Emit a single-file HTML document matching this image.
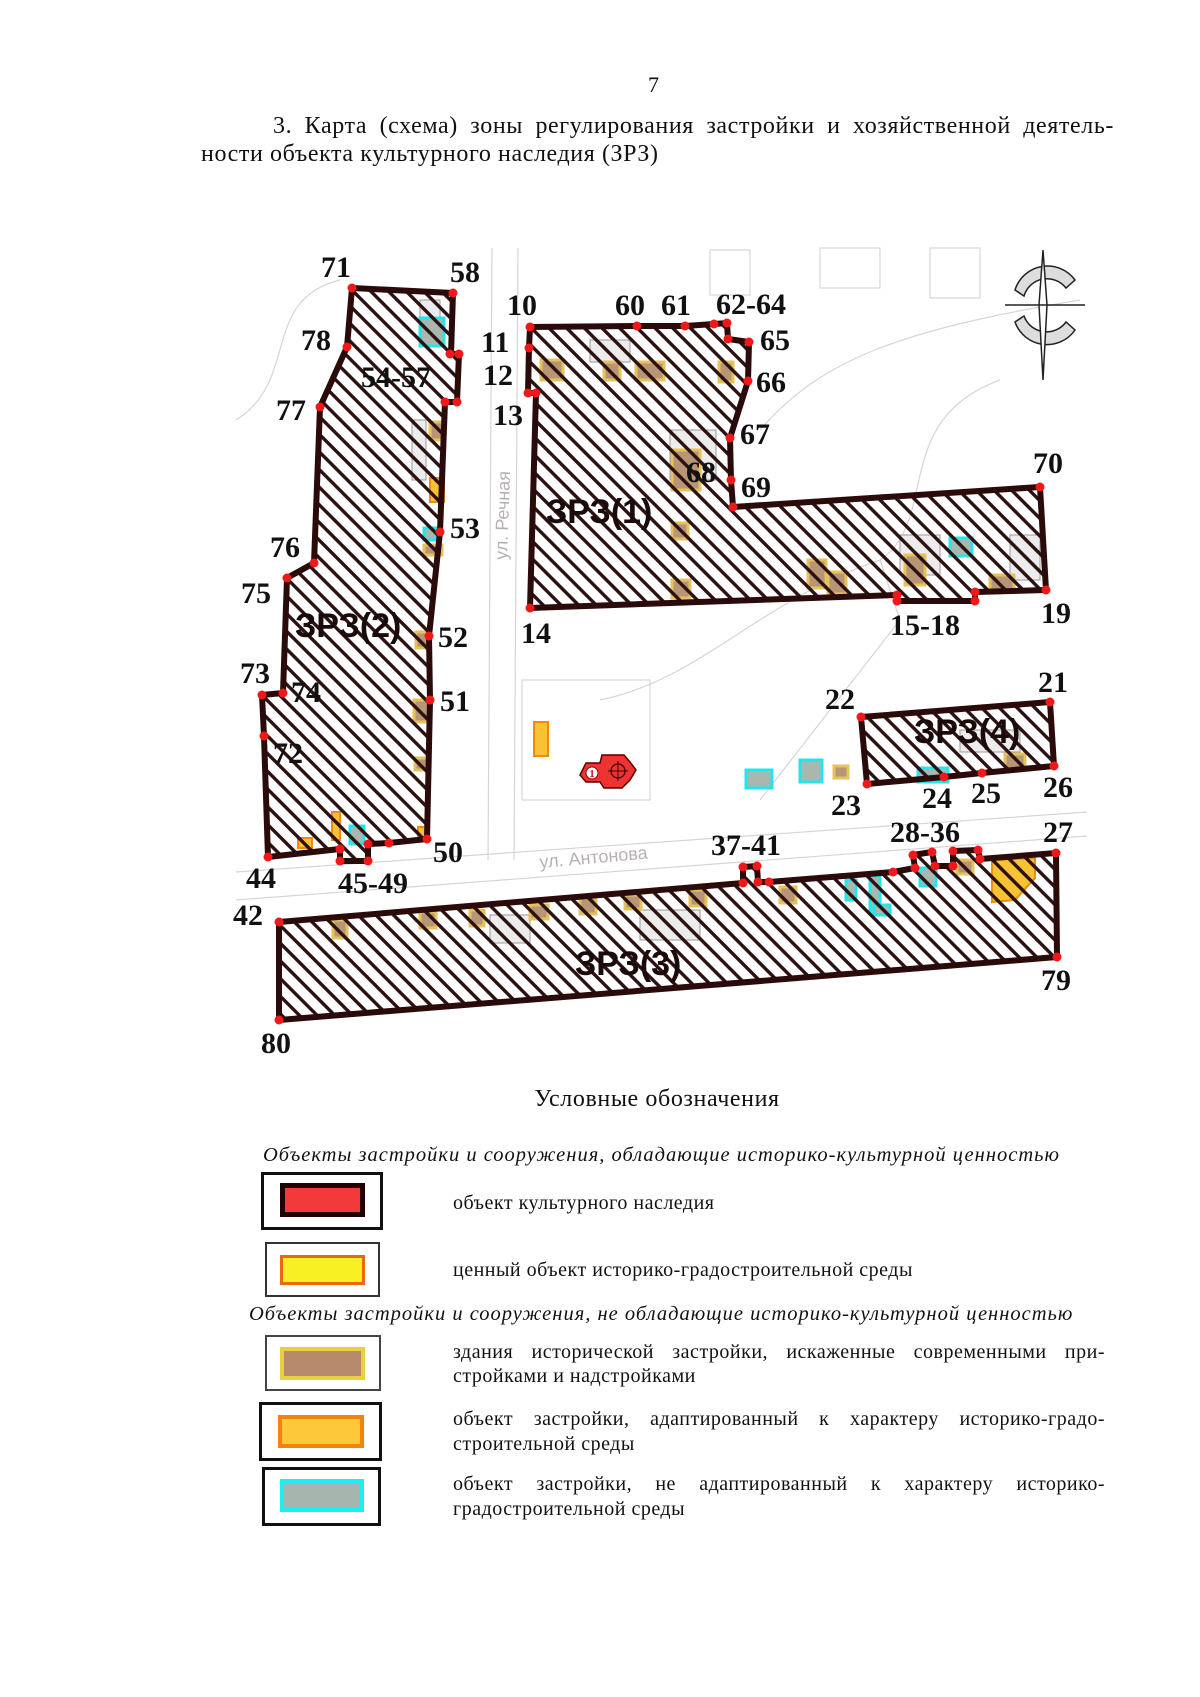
<!DOCTYPE html>
<html><head><meta charset="utf-8"><style>
html,body{margin:0;padding:0;background:#fff}
body{width:1200px;height:1697px;position:relative;overflow:hidden;font-family:"Liberation Serif","Noto Serif CJK SC",serif;color:#111}
.t{position:absolute;white-space:nowrap}
.lb{position:absolute;border:3px solid #111;background:#fff;box-sizing:border-box}
.in{position:absolute;box-sizing:border-box}
.lg{font-size:20px;letter-spacing:0.5px}
</style></head><body>
<div class="t" style="left:648px;top:72px;font-size:22px">7</div>
<div class="t" style="left:273px;top:113px;font-size:24px;letter-spacing:0.6px;width:841px;text-align:justify;text-align-last:justify">3. Карта (схема) зоны регулирования застройки и хозяйственной деятель-</div>
<div class="t" style="left:201px;top:141px;font-size:24px;letter-spacing:0.6px">ности объекта культурного наследия (ЗРЗ)</div>

<svg style="position:absolute;left:0;top:0" width="1200" height="1100" viewBox="0 0 1200 1100">
<defs>
<pattern id="h" patternUnits="userSpaceOnUse" width="12.5" height="12.5" patternTransform="rotate(-45)">
<line x1="6.25" y1="0" x2="6.25" y2="12.5" stroke="#2a1010" stroke-width="3.4"/>
</pattern>
</defs>
<g fill="none" stroke="#d9d4d4" stroke-width="1.2">
<path d="M492 248 L488 860 M518 248 L514 860"/>
<path d="M236 872 L1087 812 M236 900 L1087 836"/>
<path d="M236 420 C300 380 260 300 340 280 M600 700 C700 680 760 600 880 560 C940 520 890 420 1000 380 M760 430 C820 360 900 330 1080 300"/>
<path d="M880 560 L900 620 L760 800"/>
<rect x="522" y="680" width="128" height="120"/>
<rect x="820" y="248" width="60" height="40"/><rect x="930" y="248" width="50" height="50"/><rect x="710" y="250" width="40" height="45"/>
</g>
<g fill="#ececec" stroke="#9a9a9a" stroke-width="1">
<rect x="420" y="300" width="20" height="40"/><rect x="412" y="420" width="14" height="60"/><rect x="590" y="340" width="40" height="22"/><rect x="670" y="430" width="46" height="50"/><rect x="900" y="535" width="40" height="40"/><rect x="1010" y="535" width="30" height="45"/><rect x="960" y="730" width="60" height="22"/><rect x="640" y="910" width="60" height="30"/><rect x="490" y="915" width="40" height="28"/>
</g>
<g fill="#b89575" stroke="#e6c25a" stroke-width="3">
<rect x="541" y="360" width="22" height="20"/><rect x="604" y="362" width="16" height="18"/><rect x="636" y="362" width="28" height="18"/><rect x="719" y="362" width="14" height="20"/>
<rect x="672" y="450" width="28" height="40"/><rect x="672" y="523" width="16" height="16"/><rect x="672" y="580" width="18" height="18"/>
<rect x="808" y="560" width="18" height="28"/><rect x="828" y="572" width="18" height="22"/><rect x="905" y="555" width="20" height="30"/><rect x="990" y="575" width="24" height="16"/>
<rect x="430" y="422" width="14" height="18"/><rect x="424" y="545" width="18" height="10"/><rect x="416" y="632" width="14" height="16"/><rect x="414" y="700" width="16" height="22"/><rect x="415" y="758" width="14" height="12"/>
<rect x="1005" y="754" width="20" height="16"/><rect x="834" y="766" width="14" height="12"/>
<rect x="333" y="920" width="14" height="18"/><rect x="420" y="912" width="16" height="16"/><rect x="470" y="910" width="14" height="16"/><rect x="530" y="905" width="18" height="14"/><rect x="580" y="898" width="16" height="16"/><rect x="625" y="895" width="16" height="14"/><rect x="690" y="890" width="16" height="16"/><rect x="780" y="887" width="16" height="16"/><rect x="957" y="860" width="16" height="14"/>
</g>
<g fill="#a8b8b0" stroke="#22e6ea" stroke-width="3">
<rect x="420" y="318" width="24" height="28"/><rect x="424" y="528" width="12" height="12"/><rect x="950" y="538" width="22" height="18"/>
<rect x="918" y="768" width="30" height="14"/><rect x="350" y="826" width="14" height="18"/>
<rect x="746" y="770" width="26" height="18"/><rect x="800" y="760" width="22" height="22"/>
<rect x="846" y="880" width="10" height="20"/><rect x="870" y="876" width="10" height="38"/><rect x="874" y="905" width="16" height="10"/><rect x="920" y="868" width="16" height="18"/>
</g>
<g fill="#f7c234" stroke="#f08a10" stroke-width="2">
<path d="M992 860 L1035 858 L1035 878 L1015 900 L992 902 Z"/><rect x="430" y="478" width="14" height="24"/><rect x="332" y="812" width="8" height="28"/><rect x="298" y="838" width="14" height="10"/><rect x="418" y="827" width="10" height="10"/><rect x="534" y="722" width="14" height="34"/>
</g>
<path d="M580 775 L586 763 L600 763 L602 755 L624 755 L630 762 L636 770 L630 780 L622 788 L604 788 L600 782 L586 782 Z" fill="#ee3333" stroke="#5a0000" stroke-width="1.5"/>
<circle cx="592" cy="773" r="6" fill="#fff" stroke="#900" stroke-width="1"/><text x="592" y="777" font-size="10" text-anchor="middle" fill="#c00" font-weight="bold">1</text>
<circle cx="618" cy="771" r="7" fill="none" stroke="#400" stroke-width="1.3"/><path d="M608 771 H628 M618 761 V781" stroke="#400" stroke-width="1"/>
<g stroke="#222" stroke-width="1.5" fill="#ddd">
<path d="M1075 280 A34 34 0 0 0 1015 290 L1024 296 A24 24 0 0 1 1066 288 Z"/>
<path d="M1075 330 A34 34 0 0 1 1015 322 L1024 316 A24 24 0 0 0 1066 322 Z"/>
<path d="M1043 250 L1047 305 L1043 380 L1039 305 Z" fill="#fff"/>
</g>
<path d="M1005 305 H1085" stroke="#222" stroke-width="1.5"/>
<g fill="url(#h)" stroke="#2b0a0a" stroke-width="6" stroke-linejoin="round">
<polygon points="352,288 453,293 451,354 459,354 457,402 445,402 440,532 429,636 430,700 427,839 389,843 368,844 368,861 340,861 340,849 268,857 264,736 262,695 283,693 287,578 314,563 320,407 347,347"/>
<polygon points="530,327 637,326 685,326 714,324 727,323 728,339 749,342 748,381 730,438 731,480 733,507 1040,487 1046,590 975,592 975,601 897,601 897,595 530,608 536,393 528,393 529,348"/>
<polygon points="861,717 1050,702 1054,766 982,773 944,777 867,784"/>
<polygon points="279,922 743,883 743,867 757,866 758,882 769,882 893,872 915,868 913,855 932,852 935,866 953,866 953,851 978,850 980,859 1056,853 1057,957 279,1020"/>
</g>
<g fill="#f01818">
<circle cx="352" cy="288" r="4.5"/><circle cx="453" cy="293" r="4.5"/><circle cx="347" cy="347" r="4.5"/><circle cx="450" cy="354" r="4.5"/><circle cx="459" cy="354" r="4.5"/><circle cx="320" cy="407" r="4.5"/><circle cx="445" cy="402" r="4.5"/><circle cx="457" cy="402" r="4.5"/><circle cx="440" cy="532" r="4.5"/><circle cx="314" cy="563" r="4.5"/><circle cx="287" cy="578" r="4.5"/><circle cx="429" cy="636" r="4.5"/><circle cx="430" cy="700" r="4.5"/><circle cx="262" cy="695" r="4.5"/><circle cx="283" cy="693" r="4.5"/><circle cx="264" cy="736" r="4.5"/><circle cx="268" cy="857" r="4.5"/><circle cx="340" cy="849" r="4.5"/><circle cx="340" cy="861" r="4.5"/><circle cx="368" cy="861" r="4.5"/><circle cx="368" cy="844" r="4.5"/><circle cx="389" cy="843" r="4.5"/><circle cx="427" cy="839" r="4.5"/>
<circle cx="530" cy="327" r="4.5"/><circle cx="529" cy="348" r="4.5"/><circle cx="528" cy="393" r="4.5"/><circle cx="536" cy="393" r="4.5"/><circle cx="530" cy="608" r="4.5"/><circle cx="637" cy="326" r="4.5"/><circle cx="685" cy="326" r="4.5"/><circle cx="714" cy="324" r="4.5"/><circle cx="727" cy="323" r="4.5"/><circle cx="728" cy="339" r="4.5"/><circle cx="749" cy="342" r="4.5"/><circle cx="748" cy="381" r="4.5"/><circle cx="730" cy="438" r="4.5"/><circle cx="731" cy="480" r="4.5"/><circle cx="733" cy="507" r="4.5"/><circle cx="1040" cy="487" r="4.5"/><circle cx="1046" cy="590" r="4.5"/><circle cx="975" cy="592" r="4.5"/><circle cx="975" cy="601" r="4.5"/><circle cx="897" cy="595" r="4.5"/><circle cx="897" cy="601" r="4.5"/>
<circle cx="861" cy="717" r="4.5"/><circle cx="1050" cy="702" r="4.5"/><circle cx="1054" cy="766" r="4.5"/><circle cx="982" cy="773" r="4.5"/><circle cx="944" cy="777" r="4.5"/><circle cx="867" cy="784" r="4.5"/>
<circle cx="279" cy="922" r="4.5"/><circle cx="279" cy="1020" r="4.5"/><circle cx="1057" cy="957" r="4.5"/><circle cx="1056" cy="853" r="4.5"/><circle cx="743" cy="883" r="4.5"/><circle cx="743" cy="867" r="4.5"/><circle cx="757" cy="866" r="4.5"/><circle cx="758" cy="882" r="4.5"/><circle cx="769" cy="882" r="4.5"/><circle cx="893" cy="872" r="4.5"/><circle cx="915" cy="868" r="4.5"/><circle cx="913" cy="855" r="4.5"/><circle cx="932" cy="852" r="4.5"/><circle cx="935" cy="866" r="4.5"/><circle cx="953" cy="866" r="4.5"/><circle cx="953" cy="851" r="4.5"/><circle cx="978" cy="850" r="4.5"/><circle cx="980" cy="859" r="4.5"/>
</g>
<text x="0" y="0" font-family="Liberation Sans, sans-serif" font-size="18" fill="#b8b0b0" transform="translate(507,560) rotate(-88)">ул. Речная</text>
<text x="0" y="0" font-family="Liberation Sans, sans-serif" font-size="18" fill="#b8b0b0" transform="translate(540,868) rotate(-5)">ул. Антонова</text>
<g font-family="Liberation Serif, serif" font-weight="bold" font-size="30" fill="#111">
<text x="321" y="277">71</text><text x="450" y="282">58</text><text x="301" y="350">78</text><text x="276" y="420">77</text><text x="361" y="387">54-57</text>
<text x="507" y="315">10</text><text x="615" y="315">60</text><text x="661" y="315">61</text><text x="716" y="314">62-64</text>
<text x="481" y="352">11</text><text x="483" y="385">12</text><text x="493" y="425">13</text>
<text x="760" y="350">65</text><text x="756" y="392">66</text><text x="740" y="444">67</text><text x="686" y="482">68</text><text x="741" y="497">69</text><text x="1033" y="473">70</text>
<text x="450" y="538">53</text><text x="270" y="557">76</text><text x="241" y="603">75</text><text x="438" y="647">52</text><text x="521" y="643">14</text>
<text x="1041" y="623">19</text><text x="890" y="635">15-18</text>
<text x="240" y="683">73</text><text x="291" y="702">74</text><text x="440" y="711">51</text><text x="273" y="763">72</text>
<text x="246" y="888">44</text><text x="338" y="893">45-49</text><text x="433" y="862">50</text><text x="233" y="925">42</text><text x="261" y="1053">80</text>
<text x="825" y="709">22</text><text x="1038" y="692">21</text><text x="1043" y="797">26</text><text x="922" y="808">24</text><text x="971" y="803">25</text><text x="831" y="815">23</text>
<text x="711" y="855">37-41</text><text x="890" y="842">28-36</text><text x="1043" y="842">27</text><text x="1041" y="990">79</text>
</g>
<g font-family="Liberation Sans, sans-serif" font-weight="bold" font-size="34" fill="#1a0a0a">
<text x="546" y="523">ЗРЗ(1)</text><text x="295" y="637">ЗРЗ(2)</text><text x="575" y="975">ЗРЗ(3)</text><text x="914" y="743">ЗРЗ(4)</text>
</g>
</svg>

<div class="t" style="left:0;width:1314px;text-align:center;top:1086px;font-size:24px;letter-spacing:0.6px">Условные обозначения</div>
<div class="t" style="left:263px;top:1144px;width:789px;font-size:20.5px;letter-spacing:1px;font-style:italic;text-align:justify;text-align-last:justify">Объекты застройки и сооружения, обладающие историко-культурной ценностью</div>
<div class="lb" style="left:261px;top:1172px;width:122px;height:58px"></div>
<div class="in" style="left:280px;top:1183px;width:85px;height:34px;background:#f23a3a;border:5px solid #220000"></div>
<div class="t lg" style="left:453px;top:1192px">объект культурного наследия</div>
<div class="lb" style="left:265px;top:1242px;width:115px;height:55px;border-width:2px;border-color:#333"></div>
<div class="in" style="left:280px;top:1255px;width:85px;height:30px;background:#f8f022;border:3px solid #e86a10"></div>
<div class="t lg" style="left:453px;top:1259px">ценный объект историко-градостроительной среды</div>
<div class="t" style="left:249px;top:1303px;width:817px;font-size:20.5px;letter-spacing:1px;font-style:italic;text-align:justify;text-align-last:justify">Объекты застройки и сооружения, не обладающие историко-культурной ценностью</div>
<div class="lb" style="left:265px;top:1335px;width:116px;height:56px;border-width:2px;border-color:#444"></div>
<div class="in" style="left:280px;top:1347px;width:85px;height:33px;background:#b88a6c;border:4px solid #e8d040"></div>
<div class="t lg" style="left:453px;top:1341px;width:652px;text-align:justify;text-align-last:justify">здания исторической застройки, искаженные современными при-</div>
<div class="t lg" style="left:453px;top:1365px">стройками и надстройками</div>
<div class="lb" style="left:259px;top:1402px;width:123px;height:59px"></div>
<div class="in" style="left:278px;top:1415px;width:86px;height:33px;background:#fdc93a;border:4px solid #f5820a"></div>
<div class="t lg" style="left:453px;top:1408px;width:652px;text-align:justify;text-align-last:justify">объект застройки, адаптированный к характеру историко-градо-</div>
<div class="t lg" style="left:453px;top:1433px">строительной среды</div>
<div class="lb" style="left:262px;top:1467px;width:119px;height:59px"></div>
<div class="in" style="left:280px;top:1479px;width:84px;height:33px;background:#a6b6ae;border:4px solid #18f0f4"></div>
<div class="t lg" style="left:453px;top:1473px;width:652px;text-align:justify;text-align-last:justify">объект застройки, не адаптированный к характеру историко-</div>
<div class="t lg" style="left:453px;top:1498px">градостроительной среды</div>
</body></html>
